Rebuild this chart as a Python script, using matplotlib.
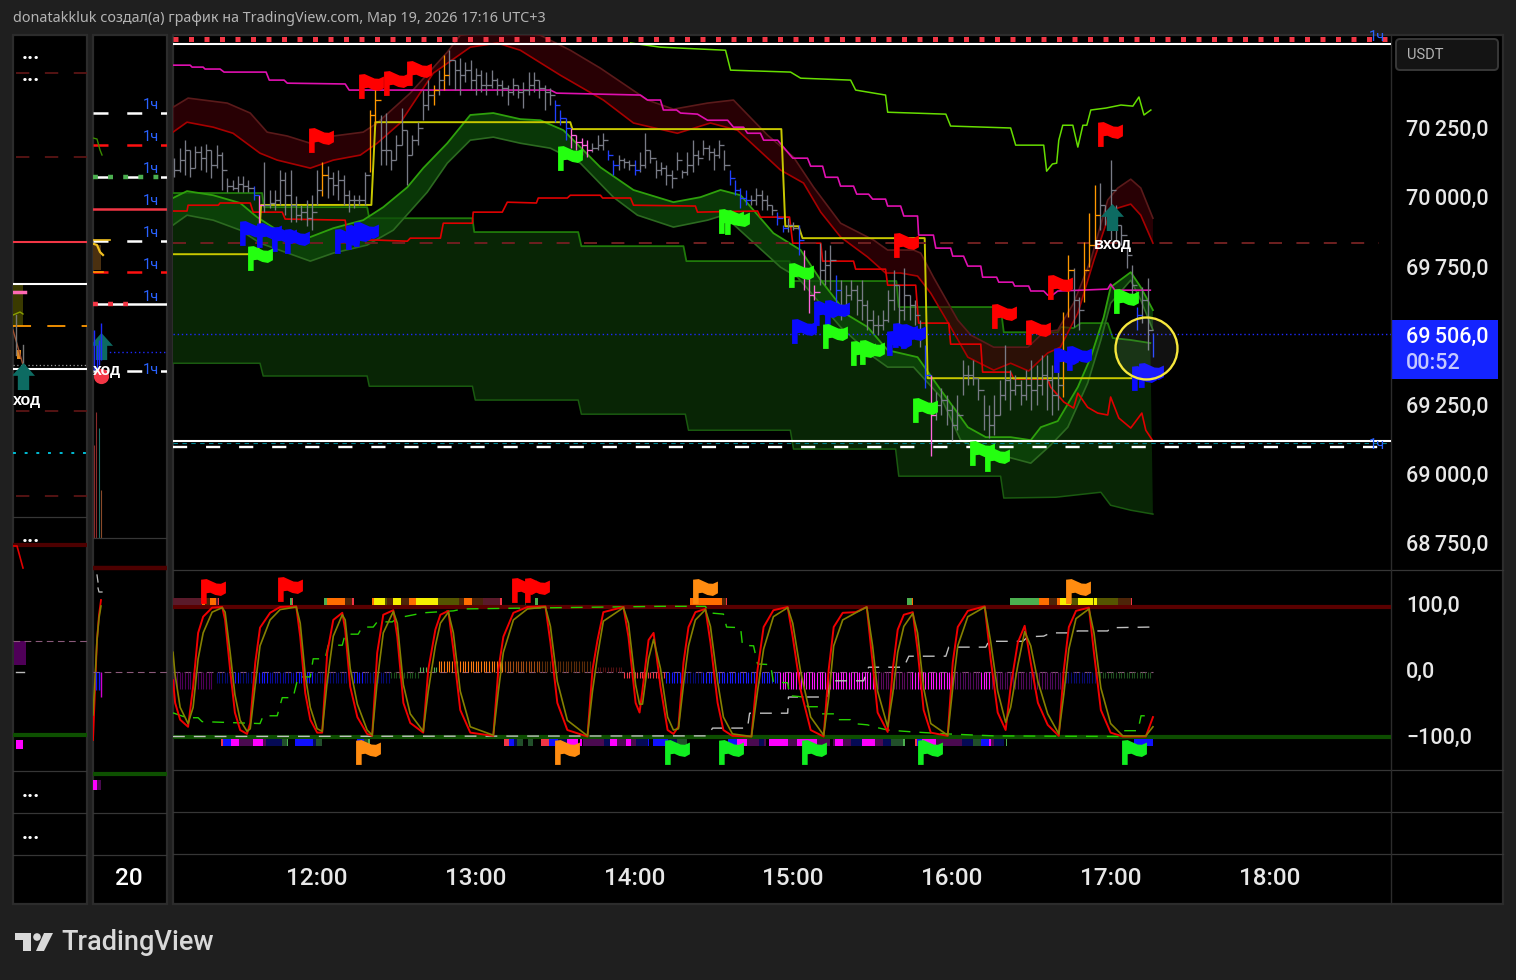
import matplotlib
matplotlib.use("Agg")
import matplotlib.pyplot as plt
import numpy as np
from matplotlib.patches import Rectangle, FancyBboxPatch, Polygon, Circle
from matplotlib.path import Path
from matplotlib.transforms import ScaledTranslation

W, H = 1516, 980
plt.rcParams["font.family"] = ["Roboto", "DejaVu Sans"]

# 2-minute bars, first one at 11:06, time = minutes after 11:00
bar_high = [70142, 70178, 70207, 70171, 70185, 70185, 70192, 70171, 70189, 70163,
            70069, 70062, 70076, 70076, 70062, 70040, 70008, 70127, 70026, 70026,
            70098, 70091, 70098, 70004, 69971, 69990, 70008, 70098, 70127, 70112,
            70091, 70098, 70080, 70026, 70008, 70008, 70091, 70315, 70423, 70297,
            70304, 70171, 70225, 70322, 70243, 70225, 70271, 70387, 70423, 70405,
            70459, 70513, 70531, 70495, 70502, 70488, 70495, 70466, 70459, 70452,
            70459, 70430, 70423, 70405, 70430, 70405, 70416, 70452, 70452, 70423,
            70405, 70394, 70351, 70315, 70286, 70250, 70224, 70213, 70206, 70195,
            70224, 70231, 70170, 70134, 70152, 70141, 70134, 70134, 70163, 70231,
            70170, 70134, 70127, 70116, 70098, 70163, 70098, 70163, 70206, 70170,
            70206, 70188, 70177, 70206, 70170, 70098, 70062, 70033, 70026, 70008,
            70033, 70026, 70008, 69971, 69946, 69899, 69924, 69910, 69899, 69809,
            69737, 69682, 69834, 69809, 69827, 69718, 69700, 69682, 69700, 69682,
            69700, 69628, 69592, 69574, 69592, 69664, 69737, 69682, 69744, 69646,
            69628, 69556, 69466, 69357, 69296, 69310, 69285, 69249, 69285, 69411,
            69393, 69411, 69346, 69285, 69249, 69285, 69339, 69466, 69375, 69357,
            69339, 69375, 69411, 69393, 69429, 69429, 69393, 69375, 69585, 69791,
            69744, 69639, 69838, 69942, 70044, 70051, 69971, 70134, 69971, 69899,
            69820, 69755, 69603, 69675, 69708, 69509]
bar_low = [70073, 70091, 70080, 70073, 70105, 70098, 70091, 70069, 70105, 70026,
           70018, 70026, 70018, 70018, 70018, 69990, 69899, 69946, 69961, 69954,
           69971, 69935, 69910, 69910, 69917, 69895, 69881, 69971, 70004, 69997,
           70008, 69990, 69971, 69946, 69961, 69971, 69971, 70091, 70260, 70116,
           70116, 70098, 70134, 70188, 70044, 70152, 70188, 70279, 70315, 70333,
           70369, 70387, 70405, 70387, 70369, 70416, 70387, 70369, 70380, 70369,
           70394, 70369, 70365, 70333, 70369, 70358, 70322, 70369, 70380, 70358,
           70315, 70333, 70271, 70260, 70206, 70177, 70170, 70152, 70145, 70163,
           70170, 70170, 70134, 70080, 70098, 70105, 70098, 70080, 70091, 70105,
           70123, 70069, 70080, 70044, 70033, 70098, 70069, 70080, 70091, 70116,
           70152, 70134, 70098, 70141, 70098, 70044, 70008, 69961, 69971, 69971,
           69971, 69954, 69954, 69935, 69899, 69874, 69874, 69881, 69791, 69664,
           69581, 69628, 69682, 69682, 69664, 69592, 69556, 69574, 69628, 69574,
           69556, 69520, 69509, 69502, 69520, 69549, 69592, 69538, 69556, 69556,
           69538, 69458, 69310, 69064, 69195, 69213, 69177, 69122, 69158, 69285,
           69321, 69321, 69267, 69158, 69130, 69140, 69213, 69267, 69231, 69285,
           69249, 69267, 69231, 69249, 69285, 69231, 69213, 69231, 69278, 69567,
           69531, 69520, 69621, 69747, 69834, 69881, 69899, 69845, 69845, 69827,
           69744, 69639, 69520, 69545, 69447, 69423]
bar_close = [70098, 70134, 70171, 70105, 70163, 70142, 70171, 70116, 70152, 70098,
             70040, 70033, 70047, 70040, 70033, 70008, 69971, 69971, 69979, 69990,
             70062, 70008, 69971, 69935, 69946, 69924, 69946, 70026, 70080, 70069,
             70044, 70062, 70008, 69990, 69990, 69990, 70080, 70297, 70351, 70171,
             70171, 70134, 70188, 70243, 70152, 70206, 70250, 70333, 70369, 70387,
             70423, 70441, 70495, 70459, 70441, 70459, 70423, 70441, 70405, 70405,
             70423, 70405, 70394, 70380, 70405, 70380, 70387, 70405, 70423, 70394,
             70380, 70369, 70333, 70286, 70250, 70224, 70199, 70188, 70170, 70177,
             70188, 70206, 70152, 70116, 70134, 70127, 70116, 70098, 70116, 70170,
             70141, 70098, 70105, 70080, 70069, 70134, 70091, 70116, 70152, 70141,
             70177, 70163, 70152, 70188, 70116, 70069, 70026, 69997, 69990, 69990,
             70008, 69990, 69971, 69953, 69924, 69888, 69899, 69888, 69845, 69737,
             69646, 69657, 69737, 69755, 69773, 69664, 69610, 69646, 69664, 69628,
             69610, 69556, 69538, 69538, 69556, 69628, 69682, 69592, 69646, 69610,
             69574, 69502, 69357, 69213, 69249, 69267, 69231, 69177, 69213, 69357,
             69357, 69346, 69303, 69213, 69177, 69213, 69285, 69339, 69303, 69321,
             69285, 69321, 69303, 69321, 69357, 69339, 69285, 69321, 69429, 69737,
             69628, 69592, 69737, 69827, 69935, 69971, 69935, 70026, 69899, 69863,
             69791, 69682, 69574, 69628, 69520, 69506]
bar_runs = [(15, "g"), (1, "b"), (1, "p"), (11, "g"), (1, "o"), (8, "g"), (2, "o"), (10, "g"),
            (1, "o"), (1, "g"), (1, "o"), (20, "g"), (3, "b"), (4, "p"), (3, "g"), (2, "b"),
            (3, "g"), (1, "b"), (17, "g"), (4, "b"), (5, "g"), (2, "b"), (2, "g"), (1, "b"),
            (3, "p"), (3, "g"), (1, "b"), (16, "g"), (1, "b"), (1, "p"), (24, "g"), (2, "o"),
            (2, "g"), (3, "o"), (7, "g"), (1, "b"), (2, "g"), (1, "b")]
bar_colors = {"g": "#787b86", "b": "#2040ff", "p": "#ff66dd", "o": "#ff9800"}

yellow_t = [5.5, 37.7, 38.8, 80.5, 82, 155.7, 156.5, 235.5, 237, 242, 243.5, 289.7, 290.8, 376]
yellow_p = [69794, 69794, 69972, 69972, 70271, 70271, 70246, 70246, 69895, 69895, 69852, 69852, 69346, 69346]

pink_t = [5.5, 12, 12.7, 16.9, 17.6, 23.3, 24.8, 40.7, 41.9, 47.5, 48.7, 70.6, 72.1, 148.2, 150.5, 182.2, 184.9,
          189.8, 190.9, 195.9, 197.4, 203.8, 207.6, 215.2, 217.4, 221.2, 222.7, 227.6, 228.8, 234.1, 239.8, 245.4,
          246.6, 251.1, 252.2, 256.8, 257.9, 262.8, 264, 268.5, 270, 274.9, 275.7, 280.6, 281.8, 287, 287.4, 293,
          293.9, 299.5, 300.3, 304.4, 306, 310.9, 311.6, 316.9, 317.7, 323, 323.7, 329, 329.8, 334.7, 336.2, 338,
          340, 348.7, 358.9, 360, 361.6, 375]
pink_p = [70477, 70477, 70470, 70470, 70463, 70463, 70452, 70452, 70423, 70423, 70412, 70409, 70387, 70387, 70376, 70369, 70351,
          70351, 70315, 70315, 70304, 70300, 70278, 70278, 70253, 70253, 70231, 70231, 70206, 70206, 70141, 70141,
          70112, 70112, 70072, 70072, 70040, 70040, 70011, 70011, 69993, 69993, 69968, 69968, 69932, 69932, 69863, 69863,
          69816, 69816, 69787, 69787, 69751, 69751, 69711, 69711, 69693, 69693, 69679, 69679, 69661, 69661, 69646, 69646,
          69661, 69664, 69668, 69686, 69664, 69664]

lime_t = [178.5, 189.8, 214.4, 216.3, 239, 242.8, 261.7, 263.6, 274.9, 275.7, 297.7, 299.5, 322.2, 324.1, 334.7, 335.8,
          338, 339.6, 340.4, 341.9, 345.7, 347.6, 349.5, 351, 352.5, 358.2, 363.9, 368.4, 370.7, 372.6, 375.2]
lime_p = [70557, 70542, 70531, 70459, 70452, 70430, 70423, 70387, 70369, 70307, 70300, 70257, 70250, 70188, 70188, 70094,
          70120, 70123, 70206, 70260, 70260, 70181, 70260, 70260, 70315, 70322, 70333, 70329, 70362, 70297, 70315]

red_up_t = [5.5, 11.2, 26, 34.7, 41.1, 48.7, 57.4, 66.1, 77.4, 82.7, 95.2, 109.2, 114.1, 129.3, 144.4, 155.7, 167.1, 184.9,
            194.7, 207.6, 217.4, 230.3, 240.1, 247.7, 257.9, 270.4, 275.7, 285.5, 288.2, 293, 302.2, 307.1, 315.8, 328.7,
            334.7, 340, 346, 352.5, 358.9, 362.7, 367.6, 371.4, 376]
red_up_p = [70325, 70358, 70340, 70304, 70235, 70221, 70195, 70221, 70235, 70268, 70376, 70524, 70585, 70604, 70585, 70531, 70466, 70351,
            70318, 70340, 70351, 70224, 70145, 70036, 69906, 69845, 69809, 69809, 69798, 69711, 69556, 69502, 69458, 69458,
            69512, 69520, 69617, 69773, 69990, 70033, 70065, 70033, 69924]
red_lo_t = [5.5, 10.8, 20.7, 28.2, 38.4, 44.9, 57.4, 66.1, 76.3, 82.7, 91.4, 103.9, 117.9, 128.1, 136.8, 151.9, 168.2, 179.6,
            196.2, 208.7, 218.9, 235.2, 243.9, 250.4, 257.9, 268.1, 274.9, 280.6, 287, 292, 299.5, 306, 315.8, 322.2, 329,
            336.2, 341, 347.6, 353.7, 360, 367.6, 371.4, 376]
red_lo_p = [70235, 70271, 70253, 70231, 70159, 70134, 70105, 70134, 70152, 70195, 70268, 70448, 70542, 70557, 70531, 70441, 70351, 70268,
            70231, 70268, 70242, 70098, 70051, 69946, 69856, 69784, 69726, 69726, 69715, 69653, 69531, 69422, 69375, 69400, 69372,
            69437, 69458, 69581, 69773, 69953, 69975, 69935, 69834]

green_up_t = [5.5, 10.8, 20.7, 30.9, 37.3, 44.9, 57.4, 66.1, 77.4, 85, 94.1, 100.1, 109.2, 117.9, 126.6, 136.8, 144.4, 153.1,
              167.1, 179.6, 194.7, 204.9, 212.5, 220.1, 232.5, 242.8, 250.4, 260.6, 268.1, 275.7, 287, 295.8, 302.2, 306,
              312.8, 322.2, 329.8, 333.6, 340, 347.6, 352.5, 357.4, 360, 367.6, 371.4, 376]
green_up_p = [69997, 70022, 70007, 69979, 69928, 69881, 69856, 69888, 69917, 69964, 70036, 70105, 70195, 70297, 70304, 70282, 70278, 70242,
              70108, 70026, 69982, 70000, 70026, 70007, 69870, 69809, 69700, 69574, 69531, 69447, 69422, 69303, 69220, 69169,
              69133, 69133, 69122, 69169, 69191, 69314, 69422, 69567, 69675, 69729, 69675, 69592]
green_lo_t = [5.5, 10.8, 20.7, 30.9, 38.4, 57.4, 66.1, 78.9, 88.8, 101.6, 109.2, 117.9, 126.6, 136.8, 148.2, 159.5, 172, 181.1,
              194.7, 207.6, 213.6, 235.2, 241.6, 257.9, 270.4, 275.7, 285.5, 295.8, 303.3, 312.8, 318.4, 329.8, 337.3, 343.8,
              351.3, 356.3, 360, 367.6, 371.4, 376]
green_lo_p = [69899, 69935, 69917, 69881, 69834, 69769, 69798, 69827, 69881, 70018, 70123, 70206, 70217, 70195, 70177, 70123, 70000, 69935,
              69892, 69917, 69935, 69747, 69711, 69531, 69422, 69386, 69386, 69278, 69122, 69079, 69068, 69039, 69104, 69169,
              69328, 69484, 69617, 69700, 69628, 69520]

cloud_up_t = [5.5, 39.2, 39.9, 78.9, 79.7, 118.7, 119.4, 158.7, 159.9, 198.5, 199.6, 238.6, 239.8, 279, 279.9, 318.4, 319.6,
              340, 341.2, 346, 348.7, 358.9, 360.8, 367.6, 375]
cloud_up_p = [70015, 70015, 69964, 69964, 69924, 69924, 69874, 69874, 69823, 69823, 69769, 69769, 69697, 69697, 69603, 69603, 69512,
              69512, 69531, 69527, 69545, 69545, 69491, 69484, 69473]
cloud_lo_t = [5.5, 38.4, 39.6, 78.9, 79.7, 118.7, 119.8, 158.7, 159.9, 199.2, 200.4, 238.9, 240.1, 278.7, 279.9, 318.4, 319.6,
              339.3, 356.3, 360, 367.6, 376]
cloud_lo_p = [69400, 69400, 69354, 69354, 69317, 69317, 69267, 69267, 69216, 69216, 69158, 69158, 69090, 69090, 68992, 68992, 68913,
              68916, 68934, 68887, 68869, 68855]

red_step_t = [5.5, 10.8, 11.2, 22.6, 23.3, 34.7, 35.8, 46.8, 47.9, 70.6, 71.7, 82.7, 94.1, 95.2, 106.6, 107.7, 118.7, 119, 130,
              131.9, 142.9, 143.6, 154.6, 155.7, 167.1, 167.9, 178.5, 179.6, 203, 203.8, 226.5, 227.6, 238.6, 239.8, 250.4,
              251.1, 262.8, 263.6, 274.9, 275.7, 286.3, 287.4, 298.8, 299.5, 310.9, 311.6, 322.2, 323.4, 336.2, 337.3, 342.3,
              346, 347.6, 351.3, 355.1, 358.9, 360, 363.1, 367.6, 371.8, 373.3, 376]
red_step_p = [69950, 69950, 69971, 69971, 69979, 69979, 69946, 69946, 69921, 69917, 69845, 69845, 69841, 69852, 69852, 69906, 69906, 69946, 69946,
              69982, 69979, 69997, 69997, 70007, 70007, 69997, 69997, 69971, 69968, 69946, 69950, 69928, 69928, 69834, 69834,
              69769, 69769, 69740, 69740, 69682, 69682, 69545, 69545, 69469, 69469, 69368, 69368, 69343, 69343, 69314, 69260,
              69238, 69292, 69241, 69220, 69213, 69278, 69202, 69166, 69220, 69158, 69119]

levels_white_solid = [70553, 69119]
level_squares = 70571
level_white_dash = 69098
level_teal_dash = 69112
level_maroon_dash = 69834
last_price = 69506

flag_red_t = [61.5, 80.5, 89.9, 98.6, 282.5, 319.6, 332.5, 340.8, 359.7]
flag_red_p = [70206, 70401, 70412, 70448, 69827, 69570, 69512, 69675, 70228]
flag_blue_t = [35.4, 41.9, 47.5, 52.4, 71.4, 75.5, 78.6, 243.9, 252.2, 256.4, 279.9, 282.1, 285.2, 343, 347.9, 372.6, 375.2]
flag_blue_p = [69870, 69863, 69849, 69841, 69841, 69856, 69867, 69516, 69581, 69585, 69473, 69502, 69498, 69411, 69419, 69346, 69357]
flag_green_t = [38.4, 155.7, 216.3, 218.9, 242.8, 255.7, 266.5, 269.9, 289.7, 311.3, 317, 365.7]
flag_green_p = [69780, 70141, 69914, 69910, 69718, 69498, 69437, 69440, 69231, 69075, 69054, 69624]

# oscillator pane
osc_t = [5.5, 6.3, 8.2, 11.2, 13.1, 15, 16.9, 20.3, 24.1, 25.2,
         27.1, 28.9, 30.9, 33.5, 34.7, 36.6, 38.4, 42.2, 46, 52.1,
         53.6, 55.5, 57.4, 60, 61.9, 63.8, 66.1, 69.5, 70.6, 72.5,
         75.2, 78.9, 80.8, 82.7, 85, 88.8, 90.3, 92.6, 95.2, 100.1,
         102, 104.7, 106.6, 109.6, 111.5, 114.1, 117.9, 126.6, 128.5, 130.4,
         134.2, 139.5, 146.3, 148.2, 150.8, 154.6, 162.2, 164.1, 166, 168.2,
         175.8, 177.7, 180.4, 181.9, 183, 185.3, 187.2, 189.8, 192.5, 194.7,
         196.6, 198.5, 200.4, 203, 206.8, 208.7, 211.4, 213.6, 217, 224.2,
         226.5, 228.8, 232.5, 237.9, 239.8, 242.8, 246.6, 251.5, 253.4, 255.3,
         258.7, 263.6, 267.8, 270, 271.9, 275.7, 277.6, 279.5, 281.8, 285.2,
         287, 289.3, 292, 298.4, 300.3, 302.2, 306, 312.4, 314.7, 317.3,
         320.3, 322.2, 324.9, 327.5, 329.8, 332.5, 336.2, 340.4, 342.3, 344.2,
         346.9, 351.8, 353.7, 356.3, 360, 364.6, 373.3, 376]
osc_fast = [-13, -48, -74, -85, -23, 60, 85, 99, 100, 80,
            3, -63, -90, -96, -79, 14, 68, 91, 100, 101,
            54, -33, -74, -94, -94, 29, 80, 91, 65, -23,
            -70, -96, -99, 29, 88, 95, 54, -48, -79, -94,
            3, 65, 88, 94, 34, -59, -94, -99, 3, 54,
            91, 100, 101, 45, -48, -90, -100, 3, 49, 92,
            100, 54, -48, -63, -28, 49, 60, -23, -90, -96,
            -85, 14, 69, 92, 97, 45, -48, -90, -99, -100,
            3, 69, 95, 100, 54, -28, -90, -100, 3, 69,
            91, 92, 100, 14, -63, -93, 3, 65, 88, 92,
            34, -59, -94, -99, 14, 69, 94, 101, 18, -63,
            -90, -23, 45, 71, 14, -48, -82, -99, 3, 69,
            94, 99, 29, -59, -94, -100, -100, -70]
osc_slow = [30, -5, -55, -80, -55, 20, 60, 92, 99, 92,
            30, -35, -75, -92, -88, -20, 40, 80, 96, 100,
            75, -5, -55, -88, -92, -15, 55, 88, 80, 5,
            -50, -90, -98, -15, 60, 93, 75, -20, -65, -92,
            -30, 40, 75, 92, 60, -30, -85, -98, -30, 30,
            80, 97, 100, 70, -15, -75, -99, -30, 25, 78,
            99, 75, -20, -50, -50, 20, 50, 5, -70, -90,
            -88, -20, 40, 80, 96, 70, -15, -70, -96, -100,
            -30, 35, 85, 99, 75, 0, -70, -98, -40, 40,
            80, 91, 100, 40, -30, -85, -35, 30, 70, 90,
            60, -25, -80, -98, -25, 40, 85, 100, 45, -30,
            -78, -55, 10, 62, 40, -15, -65, -96, -35, 35,
            82, 97, 60, -25, -80, -99, -99, -85]

dash_green_t = [5.5, 10.8, 15, 16.5, 38.4, 39.6, 44.9, 46.8, 50.9, 52.8, 57.4, 58.5, 63, 64.2, 69.5, 70.6, 75.5, 77, 81.2, 82.7,
                88.4, 90.3, 97.8, 100.1, 111.5, 115.2, 189.8, 206.8, 208, 213.6, 214.8, 220.1, 220.8, 225, 226.5, 231.4,
                232.5, 237.9, 238.6, 243.9, 245.4, 249.6, 250.7, 256, 256.8, 261.7, 262.8, 268.1, 270.4, 275.7, 285.5,
                298.4, 315.8, 363.8, 365, 370.3, 371.5, 376]
dash_green_v = [-63.5, -71, -71, -77, -80, -68, -68, -40, -40, -8, -8, 20, 20, 41, 41, 58, 58, 69, 69, 77,
                77, 83, 89, 91, 94, 97, 101, 101, 91, 89, 69, 68, 41, 40, 12, 11,
                -16, -17, -37, -39, -54, -54, -65, -65, -74, -74, -80, -82, -85, -90, -93,
                -96, -99, -100, -91, -91, -68, -68]
dash_gray_t = [5.5, 207.6, 209.5, 222.7, 223.5, 237.9, 238.2, 253, 254.1, 266.6, 268.5, 281.8, 283.7, 297.7, 298.8, 312.8,
               313.9, 326.8, 328.7, 334.7, 337.3, 344.9, 347.6, 358.9, 360, 375]
dash_gray_v = [-100, -99, -87, -87, -64, -64, -39, -39, -14, -14, 7, 7, 24, 24, 38, 38,
               47, 47, 54, 55, 60, 60, 63, 63, 68, 69]

# histogram around zero, one bar a minute from 11:06: how many, height, colour
hist_runs = [(15, -27, "#4f0058"), (1, 0, "#000000"), (7, -17, "#060a70"), (2, -17, "#1414ff"), (7, -17, "#060a70"),
             (4, -17, "#1414ff"), (10, -17, "#0a0a9a"), (7, -17, "#1414ff"), (15, -17, "#060a70"), (4, -17, "#1414ff"),
             (10, -17, "#060a70"), (11, -10, "#1a4d1a"), (7, 7, "#4caf50"), (25, 16, "#ff7a10"), (14, 16, "#a04a10"),
             (19, 16, "#5a2a08"), (12, 7, "#4d1010"), (16, -10, "#f23645"), (7, -17, "#1414ff"), (7, -17, "#060a70"),
             (29, -17, "#1a1aff"), (36, -27, "#ff14ff"), (14, -27, "#5a0a5a"), (16, -27, "#ff14ff"), (10, -27, "#4f0a5a"),
             (4, -27, "#ff14ff"), (28, -27, "#4f0a5a"), (12, -17, "#0a0a70"), (21, -10, "#1f4d1f")]

strip_colors = {"maroon": "#5a1a2a", "orange": "#ff6d00", "brown": "#4d2408", "red": "#f23645", "green": "#4caf50",
                "yellow": "#f5f000", "olive": "#555500", "dkgreen": "#214f2a", "blue": "#1010ff", "magenta": "#ff00ff",
                "purple": "#4a0a50", "navy": "#050a55"}
strip_top_start = [5.5, 16.5, 17.6, 19.5, 21.8, 22.5, 49.8, 50.5, 62.7, 63.8, 70.6, 73.3, 80.8, 81.6, 85.7, 86.5, 88.8, 91.8,
                   94.8, 97.5, 105.8, 113.7, 115.6, 118.7, 122.8, 129.3, 138.4, 142.5, 200.8, 212.9, 214.4, 282.9, 284.8,
                   321.9, 332.9, 336.6, 339.7, 340.8, 345, 347.6, 353.3, 353.7, 354.8, 362.7, 367.6]
strip_top_end = [16.5, 17.6, 19.5, 21.8, 22.5, 23, 50.5, 51, 63.8, 70.6, 73.3, 74, 81.6, 85.7, 86.5, 88.8, 91.8, 94.8,
                 97.5, 105.8, 113.7, 115.6, 118.7, 122.8, 129.3, 130, 139.1, 143.6, 212.9, 214.4, 214.8, 284.8, 285.2,
                 332.9, 336.6, 339.7, 340.8, 345, 347.6, 353.3, 353.7, 354.8, 362.7, 367.6, 368]
strip_top_kind = ["maroon", "orange", "brown", "orange", "maroon", "red", "green", "red", "green", "orange", "brown", "red",
                  "orange", "yellow", "olive", "brown", "yellow", "brown", "orange", "yellow", "olive", "brown", "orange",
                  "brown", "maroon", "red", "dkgreen", "green", "orange", "brown", "red", "green", "orange", "green", "orange",
                  "brown", "orange", "yellow", "olive", "yellow", "olive", "yellow", "olive", "brown", "red"]
strip_bot_start = [23.7, 24.4, 27.5, 30.5, 35.8, 39.6, 40.7, 46.8, 48.7, 51.7, 58.5, 59.6, 75.2, 77.8, 79.3, 130.8, 132.7, 134.6,
                   135.7, 139.9, 144.8, 147.8, 151.2, 154.6, 159.5, 160.6, 168.6, 170.9, 173.5, 176.6, 178.8, 180.7, 184.9,
                   186.8, 192.5, 195.9, 215.5, 218.6, 222.7, 226.9, 228.8, 230.7, 237.9, 241.6, 248.8, 254.9, 255.7, 258.7,
                   261.7, 265.9, 270.8, 273.8, 276.8, 281.4, 286, 286.8, 288.6, 293.9, 303.7, 307.9, 311, 314, 314.7, 315.8,
                   320.3, 368.8]
strip_bot_end = [24.4, 27.5, 30.5, 35.8, 39.6, 40.7, 46.8, 48.7, 49, 58.5, 59.6, 61.9, 77.8, 79.3, 80, 132.7, 134.6, 135.7,
                 138, 141.7, 147.8, 151.2, 154.6, 158.8, 160.3, 168.6, 170.9, 173.5, 176.6, 178.8, 180.7, 184.9, 185.6,
                 192.5, 195.9, 200, 218.6, 222.7, 226.9, 228.8, 229.6, 237.9, 241.6, 248.8, 253.8, 255.7, 258.7, 261.7,
                 265.9, 270.8, 273.8, 276.8, 281.4, 282.1, 286.8, 288.6, 293.9, 303.7, 307.9, 311, 314, 314.7, 315.8, 319.6,
                 321, 376]
strip_bot_kind = ["red", "blue", "magenta", "purple", "magenta", "purple", "navy", "dkgreen", "green", "blue", "navy", "dkgreen",
                  "blue", "dkgreen", "green", "red", "blue", "navy", "dkgreen", "dkgreen", "red", "blue", "navy", "magenta",
                  "magenta", "purple", "navy", "magenta", "purple", "magenta", "purple", "navy", "blue", "blue", "navy", "dkgreen",
                  "blue", "magenta", "purple", "navy", "purple", "magenta", "purple", "magenta", "purple", "purple", "magenta",
                  "purple", "navy", "magenta", "purple", "navy", "dkgreen", "green", "red", "blue", "magenta", "purple", "navy",
                  "dkgreen", "blue", "magenta", "purple", "navy", "green", "blue"]

osc_flag_red_t = [20.7, 49.8, 138.3, 143.2]
osc_flag_red_v = [125, 128, 126, 126]
osc_flag_orange_t = [79.2, 154.3, 206.8, 347.6]
osc_flag_orange_v = [-124, -124, 125, 125]
osc_flag_green_t = [195.9, 216.3, 247.7, 291.6, 368.8]
osc_flag_green_v = [-124, -124, -124, -124, -124]

# axis labels
time_ticks = [60, 120, 180, 240, 300, 360, 420]
time_labels = ["12:00", "13:00", "14:00", "15:00", "16:00", "17:00", "18:00"]
price_ticks = [68750, 69000, 69250, 69750, 70000, 70250]
price_labels = ["68\u2009750,0", "69\u2009000,0", "69\u2009250,0", "69\u2009750,0", "70\u2009000,0", "70\u2009250,0"]
osc_ticks = [-100, 0, 100]
osc_labels = ["\u2212100,0", "0,0", "100,0"]

# side panes, levels are read as rows of the pane
a_maroon_levels = [73, 157, 411, 496]
a_solid_levels = [242, 284, 369]
a_solid_colors = ["#f23645", "#ffffff", "#ffffff"]
a_separators = [517, 771, 813, 855]
a_dots = [(31, 57), (31, 79), (31, 540), (31, 795), (31, 837)]
b_levels = [113, 145, 177, 209, 241, 272, 304, 371]
b_colors = ["#ffffff", "#ff1010", "#ffffff", "#f23645", "#ffffff", "#ff1010", "#ffffff", "#ffffff"]
b_solid = [False, False, False, True, False, False, True, False]
b_hour_rows = [105, 137, 169, 201, 233, 265, 297, 370]
b_separators = [538, 813, 855]
b_volume_x = [96, 94, 99, 101]
b_volume_top = [412, 445, 428, 490]
b_volume_colors = ["#8a2a2a", "#8a2a2a", "#1f6f66", "#8a4a2a"]

BG = "#1f1f1f"
GRID = "#363636"
BOLD_FAMILY = ["Liberation Sans", "DejaVu Sans"]
TITLE_FAMILY = ["Noto Sans", "DejaVu Sans"]
FLAG_SIZE = 320


def make_axes(x0, y0, x1, y1):
    ax = fig.add_axes([x0 / W, 1 - y1 / H, (x1 - x0) / W, (y1 - y0) / H])
    ax.patch.set_visible(False)
    for s in ax.spines.values():
        s.set_visible(False)
    ax.tick_params(length=0)
    ax.set_xticks([])
    ax.set_yticks([])
    return ax


flag_path = Path([(-1, 0.95), (-0.55, 1), (-0.2, 0.84), (0.25, 0.64), (0.6, 0.62), (1, 0.8), (1, -0.14), (0.6, -0.36),
                  (0.15, -0.28), (-0.25, -0.1), (-0.55, -0.14), (-0.55, -1), (-1, -1), (-1, 0.95)], closed=True)
arrow_path = Path([(0, 1), (0.85, 0.05), (0.42, 0.05), (0.42, -1), (-0.42, -1), (-0.42, 0.05), (-0.85, 0.05), (0, 1)],
                  closed=True)

fig = plt.figure(figsize=(W / 100, H / 100), dpi=100, facecolor=BG)

# chrome in image rows and columns
ov = fig.add_axes([0, 0, 1, 1])
ov.set_xlim(0, W)
ov.set_ylim(H, 0)
ov.axis("off")
for x0, x1 in [(13, 87), (93, 167), (173, 1503)]:
    ov.add_patch(Rectangle((x0, 35), x1 - x0, 869, facecolor="black", edgecolor="#2c2c2c", lw=1.6))
for yy in [570, 770, 812, 854]:
    ov.plot([173, 1503], [yy, yy], color=GRID, lw=0.9)
ov.plot([1391, 1391], [35, 904], color="#2c2c2c", lw=1)
ov.text(13, 19, "donatakkluk создал(а) график на TradingView.com, Мар 19, 2026 17:16 UTC+3",
        color="#b4b4b4", fontsize=10.35, va="center", ha="left", family=TITLE_FAMILY)
ov.add_patch(FancyBboxPatch((1396, 39), 102, 31, boxstyle="round,pad=0,rounding_size=4", facecolor="#141414",
                            edgecolor="#383838", lw=1.4))
ov.text(1407, 55, "USDT", color="#b4b4b4", fontsize=10.5, va="center", ha="left")
ov.add_patch(Rectangle((1392, 320), 106, 59, facecolor="#1424ff", edgecolor="none"))
ov.text(1406, 337, "69\u2009506,0", color="white", fontsize=15.5, fontweight="medium", va="center", ha="left")
ov.text(1406, 363, "00:52", color="#c4c8ff", fontsize=15.5, fontweight="medium", va="center", ha="left")
# logo
logo = "#d9d9d9"
ov.add_patch(Polygon([(15, 933), (31, 933), (31, 951), (23, 951), (23, 940), (15, 940)], facecolor=logo, edgecolor="none"))
ov.add_patch(Circle((37, 937), 3.8, facecolor=logo, edgecolor="none"))
ov.add_patch(Polygon([(44, 933), (53, 933), (44, 951), (36, 951)], facecolor=logo, edgecolor="none"))
ov.text(61, 942, "TradingView", color=logo, fontsize=19.5, fontweight="medium", va="center", ha="left")

# main price pane
ax = make_axes(173, 35, 1391, 570)
ax.set_xlim(5.5, 466)
ax.set_ylim(68653, 70586)
ax.fill(cloud_up_t + cloud_lo_t[::-1], cloud_up_p + cloud_lo_p[::-1], color="#082505", lw=0, zorder=1)
ax.plot(cloud_up_t, cloud_up_p, color="#1f7a0a", lw=1.3, zorder=2)
ax.plot(cloud_lo_t, cloud_lo_p, color="#1a5a10", lw=1.1, zorder=2)
ax.fill(green_up_t + green_lo_t[::-1], green_up_p + green_lo_p[::-1], color="#0d4a0a", alpha=0.75, lw=0, zorder=2)
ax.plot(green_up_t, green_up_p, color="#2ea00c", lw=1.3, zorder=3)
ax.plot(green_lo_t, green_lo_p, color="#2c6a20", lw=1.2, zorder=3)
ax.fill(red_up_t + red_lo_t[::-1], red_up_p + red_lo_p[::-1], color="#4a0008", alpha=0.55, lw=0, zorder=3)
ax.plot(red_up_t, red_up_p, color="#5a1a1a", lw=1.2, zorder=3)
ax.plot(red_lo_t, red_lo_p, color="#a80000", lw=1.2, zorder=3)
ax.plot(red_step_t, red_step_p, color="#e00000", lw=1.2, zorder=4)
ax.plot(pink_t, pink_p, color="#e010b0", lw=1.2, zorder=4)
ax.plot(lime_t, lime_p, color="#66dd00", lw=1.1, zorder=4)
ax.plot(yellow_t, yellow_p, color="#c8c800", lw=1.4, zorder=4)

ax.plot([5.5, 461.5], [level_maroon_dash] * 2, color="#6b1f1f", lw=1.44, ls=(0, (6.5, 7.2)), zorder=4)
ax.plot([5.5, 466], [last_price] * 2, color="#1e2aff", lw=1, ls=(0, (1, 2)), zorder=4)
ax.plot([5.5, 466], [level_squares] * 2, color="#f23645", lw=3.6, ls=(0, (1, 2.1)), zorder=4)
for lev in levels_white_solid:
    ax.plot([5.5, 466], [lev, lev], color="white", lw=1.5, zorder=4)
ax.plot([5.5, 466], [level_teal_dash] * 2, color="#00838f", lw=0.8, ls=(0, (4, 4)), zorder=4)
ax.plot([5.5, 466], [level_white_dash] * 2, color="white", lw=1.7, ls=(0, (6, 8)), zorder=4)
ax.text(460.8, 70578, "1ч", color="#2962ff", fontsize=10.5, ha="center", va="center", zorder=5)
ax.text(460.8, 69104, "1ч", color="#2962ff", fontsize=10.5, ha="center", va="center", zorder=5)

bar_t = 6 + 2 * np.arange(len(bar_close))
bar_c = [bar_colors[k] for n, k in bar_runs for _ in range(n)]
ax.vlines(bar_t, bar_low, bar_high, colors=bar_c, lw=0.95, zorder=5)
ax.hlines(bar_close[:-1], bar_t[:-1], bar_t[1:], colors=bar_c[:-1], lw=0.95, zorder=5)

ax.scatter(flag_red_t, flag_red_p, marker=flag_path, s=FLAG_SIZE, color="#ff0000", lw=0, zorder=7)
ax.scatter(flag_blue_t, flag_blue_p, marker=flag_path, s=FLAG_SIZE, color="#0a0aff", lw=0, zorder=7)
ax.scatter(flag_green_t, flag_green_p, marker=flag_path, s=FLAG_SIZE, color="#24ff10", lw=0, zorder=7)
ax.scatter([360.7], [69930], marker=arrow_path, s=380, color="#0d6b62", lw=0, zorder=8)
ax.text(360.7, 69830, "вход", color="white", fontsize=11.5, fontweight="bold", ha="center", va="center",
        family=BOLD_FAMILY, zorder=9)
ax.scatter([373.2], [69455], s=1990, facecolor=(1, 1, 1, 0.07), edgecolor="#f6e73c", lw=1.7, zorder=9, clip_on=False)

ax.yaxis.tick_right()
ax.set_yticks(price_ticks, price_labels)
ax.tick_params(axis="y", colors="#e8e8e8", labelsize=15.5, pad=10.8, length=0)
for lab in ax.get_yticklabels():
    lab.set_fontweight("medium")

# oscillator pane
os_ax = make_axes(173, 570, 1391, 770)
os_ax.set_xlim(5.5, 466)
os_ax.set_ylim(-151.7, 157.1)
os_ax.axhline(100, color="#5a0000", lw=3, zorder=1)
os_ax.axhline(-100, color="#0d4d00", lw=3, zorder=1)
os_ax.plot([5.5, 376], [0, 0], color="#8a5a7a", lw=0.8, ls=(0, (6, 4)), zorder=1)
hist_t = 6 + np.arange(sum(r[0] for r in hist_runs))
hist_v = [v for n, v, c in hist_runs for _ in range(n)]
hist_c = [c for n, v, c in hist_runs for _ in range(n)]
os_ax.vlines(hist_t, 0, hist_v, colors=hist_c, lw=0.8, zorder=2)
for s, e, k in zip(strip_top_start, strip_top_end, strip_top_kind):
    c = strip_colors[k]
    os_ax.broken_barh([(s, e - s)], (103, 11), color=c, lw=0, zorder=2)
for s, e, k in zip(strip_bot_start, strip_bot_end, strip_bot_kind):
    c = strip_colors[k]
    os_ax.broken_barh([(s, e - s)], (-115, 11), color=c, lw=0, zorder=2)
os_ax.plot(dash_gray_t, dash_gray_v, color="#c0c0c0", lw=1, ls=(0, (8.5, 6.5)), zorder=3)
os_ax.plot(dash_green_t, dash_green_v, color="#26d000", lw=1, ls=(0, (8.5, 6.5)), zorder=3)
os_ax.plot(osc_t, osc_fast, color="#f00000", lw=1.4, zorder=4)
os_ax.plot(osc_t, osc_slow, color="#858000", lw=1.2, zorder=5)
os_ax.scatter(osc_flag_red_t, osc_flag_red_v, marker=flag_path, s=FLAG_SIZE, color="#ff0000", lw=0, zorder=6, clip_on=False)
os_ax.scatter(osc_flag_orange_t, osc_flag_orange_v, marker=flag_path, s=FLAG_SIZE, color="#ff8c10", lw=0, zorder=6, clip_on=False)
os_ax.scatter(osc_flag_green_t, osc_flag_green_v, marker=flag_path, s=FLAG_SIZE, color="#10ee20", lw=0, zorder=6, clip_on=False)
os_ax.yaxis.tick_right()
os_ax.set_yticks(osc_ticks, osc_labels)
os_ax.tick_params(axis="y", colors="#e8e8e8", labelsize=15.5, pad=10.8, length=0)
for lab, up in zip(os_ax.get_yticklabels(), [1, 2, 3]):
    lab.set_fontweight("medium")
    lab.set_transform(lab.get_transform() + ScaledTranslation(0, up / 100, fig.dpi_scale_trans))

# time axis
tm = make_axes(173, 854, 1391, 904)
tm.set_xlim(5.5, 466)
tm.set_ylim(0, 1)
tm.set_xticks(time_ticks, time_labels)
tm.tick_params(axis="x", direction="in", colors="#e8e8e8", labelsize=17.5, pad=-26.5, length=0)
for lab in tm.get_xticklabels():
    lab.set_fontweight("medium")

# left side pane A
pa = make_axes(13, 35, 87, 904)
pa.set_xlim(13, 87)
pa.set_ylim(904, 35)
pa.add_patch(Rectangle((13, 285), 10, 41, facecolor="#3a3a00", edgecolor="none", zorder=1))
for lev in a_maroon_levels:
    pa.plot([16, 87], [lev, lev], color="#5a1414", lw=1.3, ls=(0, (7.4, 8.6)))
for lev, c in zip(a_solid_levels, a_solid_colors):
    pa.plot([13, 87], [lev, lev], color=c, lw=1.5)
pa.plot([13, 87], [326, 326], color="#ff9800", lw=1.3, ls=(0, (10, 9)))
pa.plot([13, 25], [292, 292], color="#ff69b4", lw=2.5)
pa.plot([13, 20, 23], [315, 312, 314], color="#8aa000", lw=1)
pa.plot([13, 23], [330, 365], color="#a05030", lw=1)
pa.plot([16, 16], [315, 355], color="#777777", lw=1)
pa.plot([23, 23], [345, 365], color="#777777", lw=1)
pa.add_patch(Rectangle((17, 350), 4, 9, facecolor="#e08a20", edgecolor="none"))
pa.plot([13, 87], [365, 365], color="#999999", lw=0.9, ls=(0, (1, 2)))
pa.scatter([23], [376], marker=arrow_path, s=380, color="#0d6b62", lw=0, zorder=4)
pa.text(13, 400, "ход", color="white", fontsize=11.5, fontweight="bold", ha="left", va="center",
        family=BOLD_FAMILY, zorder=5)
pa.plot([13, 87], [453, 453], color="#00bcd4", lw=1.4, ls=(0, (1.5, 4.5)))
for lev in a_separators:
    pa.plot([13, 87], [lev, lev], color=GRID, lw=0.9)
pa.plot([13, 87], [545, 545], color="#4d0000", lw=3)
pa.plot([13, 17, 23], [546, 546, 568], color="#e00000", lw=1.2)
pa.plot([13, 87], [641, 641], color="#8a5a7a", lw=0.8, ls=(0, (6, 4)))
pa.bar([16.5, 23], [24, 24], width=6, bottom=641, color="#4f0058", lw=0)
pa.plot([16, 24], [672, 672], color="#bbbbbb", lw=1)
pa.plot([13, 87], [735, 735], color="#0d5000", lw=3)
pa.bar([19.5], [9], width=7, bottom=740, color="#ff00ff", lw=0)
for dx, dy in a_dots:
    pa.text(dx, dy + 2, "...", color="white", fontsize=15, ha="center", va="baseline", fontweight="bold")

# left side pane B
pb = make_axes(93, 35, 167, 904)
pb.set_xlim(93, 167)
pb.set_ylim(904, 35)
pb.add_patch(Rectangle((93, 245), 8, 25, facecolor="#4a3010", edgecolor="none"))
for lev, c, solid in zip(b_levels, b_colors, b_solid):
    if solid:
        pb.plot([93, 167], [lev, lev], color=c, lw=1.8)
    else:
        pb.plot([93, 167], [lev, lev], color=c, lw=1.8, ls=(0, (6, 7.5)))
pb.plot([93, 167], [177, 177], color="#4caf50", lw=3.2, ls=(0, (1.1, 2.3)))
pb.plot([93, 128], [304, 304], color="#f23645", lw=3.2, ls=(0, (1.1, 2.3)))
pb.plot([101, 167], [352, 352], color="#1e2aff", lw=1, ls=(0, (1, 2)))
pb.plot([93, 97, 100, 102], [138, 139, 150, 155], color="#3a8a00", lw=1)
pb.plot([94, 97, 100, 103], [244, 245, 252, 255], color="#f0c020", lw=1.6)
pb.plot([93, 110], [240, 240], color="#f0c020", lw=1.2)
pb.plot([93, 103], [272, 272], color="#ff9800", lw=1.2)
pb.scatter([101], [346], marker=arrow_path, s=380, color="#0d6b62", lw=0, zorder=3)
pb.vlines([94, 97, 99, 101], [330, 345, 340, 323], [370, 372, 365, 360], colors="#1e2aff", lw=1, zorder=4)
pb.scatter([101], [376], s=120, color="#f23645", lw=0, zorder=5)
pb.text(93, 371, "ход", color="white", fontsize=11.5, fontweight="bold", ha="left", va="center",
        family=BOLD_FAMILY, zorder=6)
pb.vlines(b_volume_x, b_volume_top, [538] * 4, colors=b_volume_colors, lw=0.8)
for lev in b_separators:
    pb.plot([93, 167], [lev, lev], color=GRID, lw=0.9)
pb.plot([93, 167], [568, 568], color="#4d0000", lw=3.2)
pb.plot([93, 95, 97, 99, 101], [740, 690, 640, 615, 600], color="#f00000", lw=1.3)
pb.plot([93, 95, 97, 99, 101], [715, 680, 640, 618, 606], color="#858000", lw=1.2)
pb.plot([97, 98], [575, 582], color="#c0c0c0", lw=0.9)
pb.plot([98, 99, 102], [588, 592, 592], color="#c0c0c0", lw=0.9)
pb.plot([93, 167], [672, 672], color="#8a5a7a", lw=0.8, ls=(0, (6, 4)))
pb.vlines([96, 99], 672, 690, colors="#1414ff", lw=1)
pb.vlines([101], 672, 697, colors="#d000d0", lw=1)
pb.plot([93, 167], [774, 774], color="#0d5000", lw=3)
pb.bar([95], [10], width=4, bottom=780, color="#ff00ff", lw=0)
pb.bar([99], [10], width=4, bottom=780, color="#4a0a50", lw=0)
for row in b_hour_rows:
    pb.text(151, row, "1ч", color="#2962ff", fontsize=10.5, ha="center", va="center", zorder=7)
pb.text(128.5, 878, "20", color="white", fontsize=17.5, fontweight="medium", ha="center", va="center")

fig.savefig("out.png", dpi=100, facecolor=BG)
